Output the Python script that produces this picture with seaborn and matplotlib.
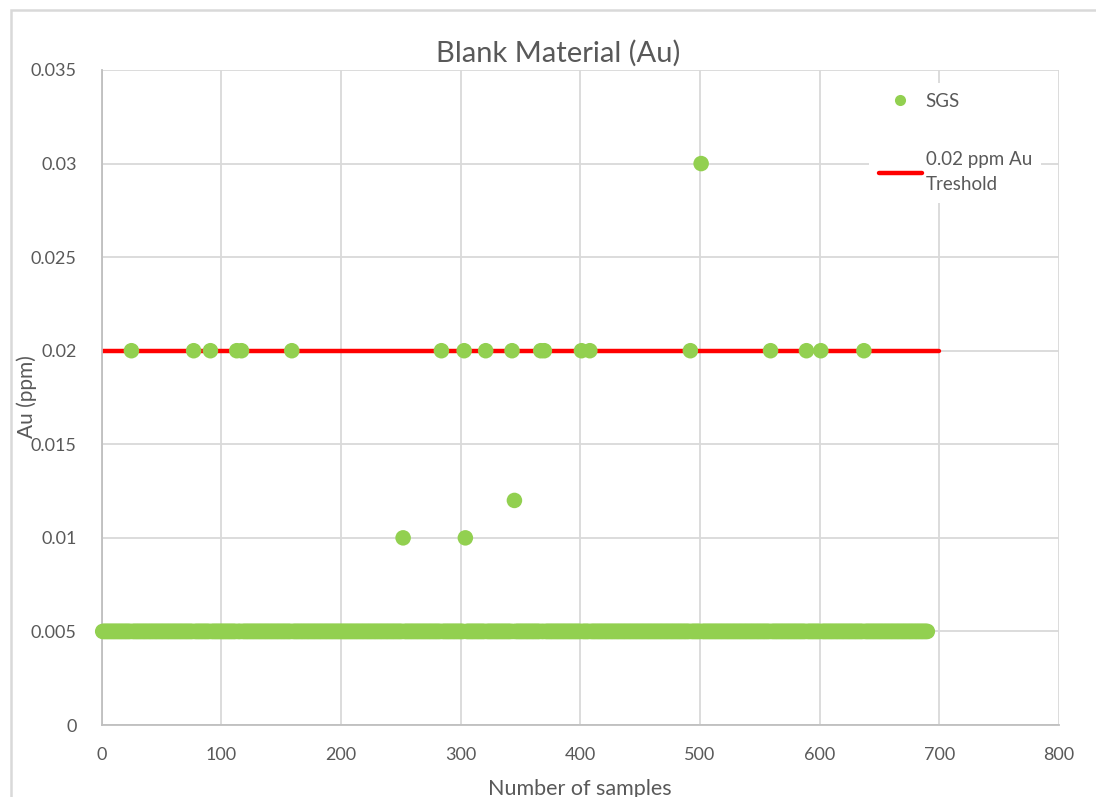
import numpy as np
import pandas as pd
import matplotlib
matplotlib.use("Agg")
import matplotlib.pyplot as plt
import seaborn as sns
from matplotlib.lines import Line2D
from matplotlib.patches import Rectangle

# ---- data ----
n_samples = 690
baseline_value = 0.005          # value of the bulk of blank samples
x_at_002 = [25, 77, 91, 113, 117, 159, 284, 303, 321, 343, 367, 370,
            401, 408, 492, 559, 589, 601, 637]
x_at_001 = [252, 304]
x_at_0012 = [345]
x_at_003 = [501]
threshold_x = [0, 700]
threshold_y = [0.02, 0.02]
x_ticks = [0, 100, 200, 300, 400, 500, 600, 700, 800]
y_ticks = [0, 0.005, 0.01, 0.015, 0.02, 0.025, 0.03, 0.035]
y_tick_labels = ["0", "0.005", "0.01", "0.015", "0.02", "0.025", "0.03", "0.035"]

samples = np.arange(1, n_samples + 1)
au = np.full(n_samples, baseline_value)
for xs, v in [(x_at_002, 0.02), (x_at_001, 0.01), (x_at_0012, 0.012), (x_at_003, 0.03)]:
    for s in xs:
        au[s - 1] = v
df = pd.DataFrame({"sample": samples, "au": au})
thr = pd.DataFrame({"x": threshold_x, "y": threshold_y})

sns.set_theme(style="white")
plt.rcParams["font.family"] = ["Lato", "DejaVu Sans"]

green = "#92d050"
text_c = "#595959"
grid_c = "#d9d9d9"

W, H = 1096, 797
fig = plt.figure(figsize=(W / 100, H / 100), dpi=100)

# chart-area border (left and top visible)
fig.patches.append(Rectangle((11 / W, -0.05), 1.2, 1 - 10 / H + 0.05,
                             transform=fig.transFigure, fill=False,
                             edgecolor=grid_c, linewidth=1.8, zorder=0))

ax = fig.add_axes([101.5 / W, 1 - 725 / H, (1059 - 101.5) / W, (725 - 70) / H])

sns.lineplot(data=thr, x="x", y="y", ax=ax, color="#ff0000", linewidth=3.2, zorder=2)
sns.scatterplot(data=df, x="sample", y="au", ax=ax, color=green, s=125,
                edgecolor="none", linewidth=0, zorder=3, clip_on=False)

ax.set_xlim(0, 800)
ax.set_ylim(0, 0.035)
ax.set_xticks(x_ticks)
ax.set_yticks(y_ticks)
ax.set_yticklabels(y_tick_labels)
ax.grid(True, color=grid_c, linewidth=1.3)
ax.set_axisbelow(True)
for side in ["top", "right"]:
    ax.spines[side].set_visible(False)
for side in ["left", "bottom"]:
    ax.spines[side].set_color("#bfbfbf")
    ax.spines[side].set_linewidth(1.3)
ax.tick_params(axis="both", length=0, labelsize=13, colors=text_c)
ax.tick_params(axis="x", pad=16)
ax.tick_params(axis="y", pad=18)

ax.set_title("Blank Material (Au)", fontsize=21, color=text_c, pad=6, x=0.477)
ax.set_xlabel("Number of samples", fontsize=15.5, color=text_c)
ax.set_ylabel("Au (ppm)", fontsize=15, color=text_c)
ax.xaxis.set_label_coords(0.5, -0.082)
ax.yaxis.set_label_coords(-0.067, 0.502)

handles = [
    Line2D([], [], marker="o", color=green, linestyle="none", markersize=8, markeredgewidth=0),
    Line2D([], [], color="#ff0000", linewidth=3.2),
]
labels = ["SGS", "0.02 ppm Au\nTreshold"]
leg = fig.legend(handles, labels, loc="upper left",
                 bbox_to_anchor=(860 / W, 1 - 74 / H),
                 frameon=True, facecolor="white", edgecolor="none", framealpha=1,
                 fontsize=13.5, labelcolor=text_c, handlelength=2.3, handletextpad=0.2,
                 labelspacing=2.2, borderpad=0.5, fancybox=False)
for t in leg.get_texts():
    t.set_linespacing(1.6)

fig.savefig("out.png", dpi=100)
